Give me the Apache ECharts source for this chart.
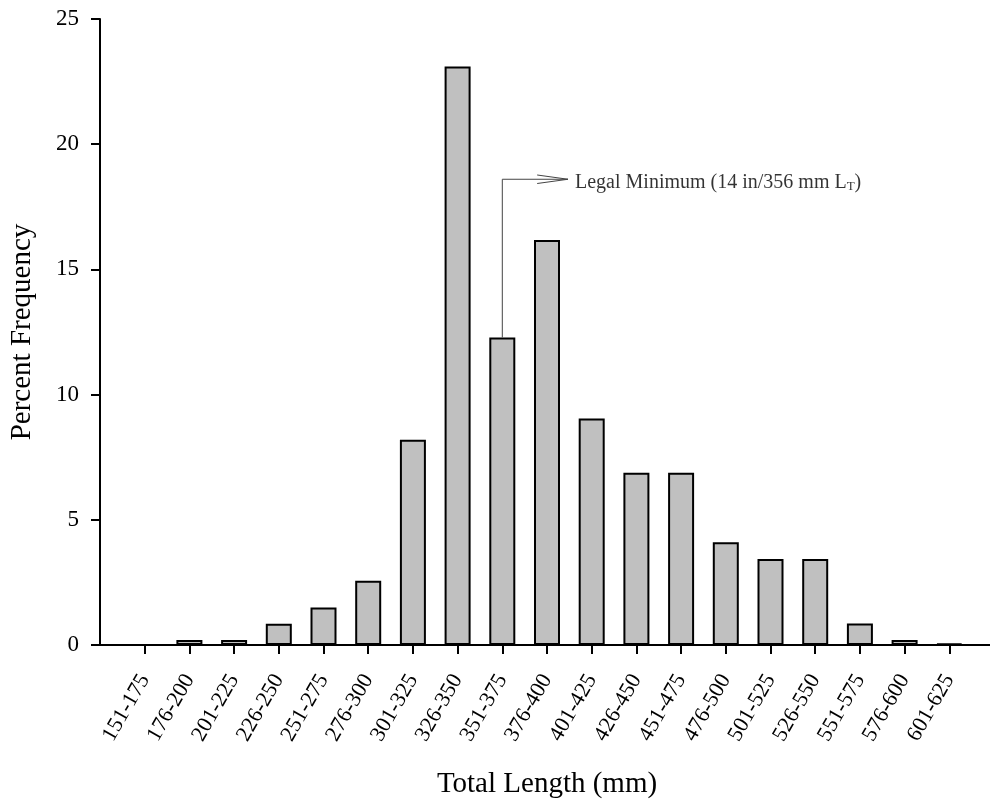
<!DOCTYPE html>
<html>
<head>
<meta charset="utf-8">
<script src="https://cdn.jsdelivr.net/npm/echarts@6/dist/echarts.min.js"></script>
<style>
  html, body { margin: 0; padding: 0; background: #fff; }
  #chart { width: 990px; height: 801px; }
</style>
</head>
<body>
<div id="chart"></div>
<script>
// length classes (mm) and percent frequency
var lengthClasses = ['151-175', '176-200', '201-225', '226-250', '251-275', '276-300',
    '301-325', '326-350', '351-375', '376-400', '401-425', '426-450', '451-475',
    '476-500', '501-525', '526-550', '551-575', '576-600', '601-625'];
var percentFreq = [0, 0.2, 0.2, 0.85, 1.5, 2.57, 8.2, 23.1, 12.28, 16.17, 9.05,
    6.88, 6.88, 4.1, 3.43, 3.43, 0.86, 0.2, 0.05];
var yTicks = [0, 5, 10, 15, 20, 25];

// legal minimum callout: sits on the 351-375 class
var legalClass = '351-375';
var legalText = 'Legal Minimum (14 in/356 mm L{sub|T})';
var calloutY = 18.6;      // height of horizontal leader
var calloutLen = 1.47;    // leader length in class widths
var arrowBack = 0.78;     // where the arrow legs start
var arrowSpread = 0.17;

var serif = "'Liberation Serif', 'Times New Roman', serif";

var classPos = [];
for (var i = 0; i < lengthClasses.length; i++) {
    classPos.push(i + 1);
}
var barData = [];
for (var i = 0; i < lengthClasses.length; i++) {
    barData.push([classPos[i], percentFreq[i]]);
}

var li = lengthClasses.indexOf(legalClass);
var lx = classPos[li];
var tip = [lx + calloutLen, calloutY];
var leader = [[lx, percentFreq[li]], [lx, calloutY], tip];
var arrowHead = [[lx + arrowBack, calloutY + arrowSpread], tip, [lx + arrowBack, calloutY - arrowSpread]];

var chart = echarts.init(document.getElementById('chart'));
chart.setOption({
    animation: false,
    backgroundColor: '#fff',
    grid: {left: 100, right: -4, top: 19, bottom: 156, outerBoundsMode: 'none', containLabel: false},
    xAxis: {
        type: 'value',
        min: 0,
        max: lengthClasses.length + 1,
        interval: 1,
        splitLine: {show: false},
        axisLine: {lineStyle: {color: '#000', width: 2}},
        axisTick: {length: 9, lineStyle: {color: '#000', width: 2}, customValues: classPos},
        axisLabel: {
            customValues: classPos,
            rotate: 60,
            margin: 31,
            fontFamily: serif,
            fontSize: 22,
            color: '#000',
            formatter: function (v) { return lengthClasses[v - 1] || ''; }
        },
        name: 'Total Length (mm)',
        nameLocation: 'middle',
        nameGap: 125,
        nameTextStyle: {fontFamily: serif, fontSize: 29, color: '#000'}
    },
    yAxis: {
        type: 'value',
        min: 0,
        max: 25,
        interval: 5,
        splitLine: {show: false},
        axisLine: {show: true, lineStyle: {color: '#000', width: 2}},
        axisTick: {show: true, length: 9, lineStyle: {color: '#000', width: 2}},
        axisLabel: {
            margin: 21,
            fontFamily: serif,
            fontSize: 23,
            color: '#000',
            formatter: function (v) { return yTicks.indexOf(v) >= 0 ? String(v) : ''; }
        },
        name: 'Percent Frequency',
        nameLocation: 'middle',
        nameGap: 63,
        nameTextStyle: {fontFamily: serif, fontSize: 29, color: '#000'}
    },
    series: [
        {
            type: 'bar',
            data: barData,
            barWidth: 26,
            itemStyle: {color: '#c0c0c0', borderColor: '#000', borderWidth: 2}
        },
        {
            type: 'line',
            data: leader,
            symbol: 'none',
            silent: true,
            lineStyle: {color: '#444', width: 1}
        },
        {
            type: 'line',
            data: arrowHead,
            symbol: 'none',
            silent: true,
            lineStyle: {color: '#444', width: 1}
        },
        {
            type: 'scatter',
            data: [tip],
            symbolSize: 0,
            silent: true,
            label: {
                show: true, position: 'right', distance: 7, offset: [0, 3],
                formatter: legalText, fontFamily: serif, fontSize: 20, color: '#000',
                rich: {sub: {fontFamily: serif, fontSize: 13, padding: [9, 0, 0, 0], color: '#000'}}
            }
        }
    ]
});
</script>
</body>
</html>
